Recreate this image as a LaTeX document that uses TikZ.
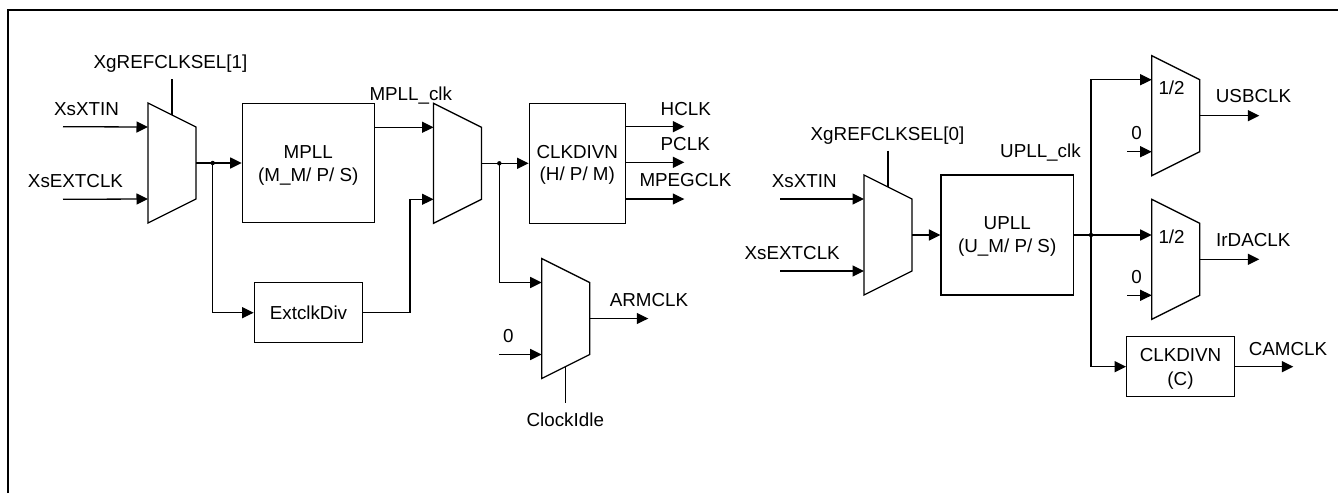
\documentclass[tikz,border=0pt]{standalone}
\usepackage{fontspec}
\setmainfont{Liberation Sans}
\usetikzlibrary{arrows.meta}
\begin{document}
\begin{tikzpicture}[x=1pt,y=-1pt,
  wire/.style={line width=1.3pt},
  arr/.style={line width=1.3pt,-{Triangle[length=11.5pt,width=11pt]}},
  blk/.style={draw,line width=1.3pt,inner sep=0pt,rectangle},
  lbl/.style={anchor=base,inner sep=0pt,font=\fontsize{18.8pt}{22pt}\selectfont},
  lbll/.style={lbl,anchor=base west},
  mux/.pic={
    \draw[line width=1.3pt] (0,0) coordinate (-tl) -- (48,24) coordinate (-tr)
      -- (48,96) coordinate (-br) -- (0,120) coordinate (-bl) -- cycle;
    \coordinate (-in1) at (0,24);
    \coordinate (-in2) at (0,96);
    \coordinate (-out) at (48,60);
    \coordinate (-sel) at (24,12);
    \coordinate (-selb) at (24,108);
  }]
\useasboundingbox (0,0) rectangle (1338,493);

% frame
\coordinate (f1) at (8,493);
\coordinate (f2) at (8,10);
\coordinate (f3) at (1345,10);
\draw[line width=2.2pt] (f1) -- (f2) -- (f3);

% ---------------- left part ----------------
\pic (m1) at (148,103) {mux};
\pic (m2) at (433.5,103.3) {mux};
\pic (m3) at (541.7,258.5) {mux};

\node[blk,minimum width=132pt,minimum height=119.4pt] (mpll) at (308.3,163) {};
\node[blk,minimum width=96.4pt,minimum height=120pt] (cdiv) at (577.5,163.3) {};
\node[blk,minimum width=108.4pt,minimum height=60pt] (ext) at (308.5,312.7) {};

\node[lbl] (t-sel1) at (170.5,68) {XgREFCLKSEL[1]};
\node[lbl] (t-xtin1) at (86.5,115) {XsXTIN};
\node[lbl] (t-ext1) at (75.5,187.7) {XsEXTCLK};
\node[lbl] (t-mpll1) at (308.3,158.3) {MPLL};
\node[lbl] (t-mpll2) at (308.3,181.7) {(M\_M/ P/ S)};
\node[lbll] (t-mpllclk) at (369.3,100) {MPLL\_clk};
\node[lbl] (t-cd1) at (577.3,158.3) {CLKDIVN};
\node[lbl] (t-cd2) at (577.3,180.7) {(H/ P/ M)};
\node[lbll] (t-hclk) at (660.5,115) {HCLK};
\node[lbll] (t-pclk) at (660.5,150.7) {PCLK};
\node[lbll] (t-mpeg) at (639.3,186.7) {MPEGCLK};
\node[lbl] (t-arm) at (649,306.7) {ARMCLK};
\node[lbl] (t-zero1) at (508.3,342.3) {0};
\node[lbl] (t-idle) at (565.3,426) {ClockIdle};
\node[lbl] (t-extdiv) at (308.5,319.3) {ExtclkDiv};

\coordinate (i1) at (63,126.7);
\coordinate (i2) at (63,199.3);
\coordinate (s1) at (172,79);
\coordinate (j1) at (212.7,163);
\coordinate (k1) at (410,0);
\coordinate (j2) at (499.3,163.3);
\coordinate (z1) at (499.3,354.5);
\coordinate (o-arm) at (648.3,318.5);
\coordinate (s3) at (565.7,402.7);
\coordinate (o-h) at (684.3,126.7);
\coordinate (o-p) at (684.3,162.3);
\coordinate (o-m) at (684.3,199);

\draw[arr] (i1) -- (m1-in1);
\draw[arr] (i2) -- (m1-in2);
\draw[wire] (s1) -- (m1-sel);
\draw[wire] (m1-out) -- (j1);
\draw[arr] (j1) -- (mpll.west);
\draw[arr] (j1) |- (ext.west);
\draw[arr] (mpll.east |- m2-in1) -- (m2-in1);
\draw[arr] (ext.east) -| (k1 |- m2-in2) -- (m2-in2);
\draw[wire] (m2-out) -- (j2);
\draw[arr] (j2) -- (cdiv.west);
\draw[arr] (j2) |- (m3-in1);
\draw[arr] (z1) -- (m3-in2);
\draw[arr] (m3-out) -- (o-arm);
\draw[wire] (m3-selb) -- (s3);
\draw[arr] (cdiv.east |- o-h) -- (o-h);
\draw[arr] (cdiv.east |- o-p) -- (o-p);
\draw[arr] (cdiv.east |- o-m) -- (o-m);
\fill (j1) circle (2.2pt);
\fill (j2) circle (2.2pt);

% ---------------- right part ----------------
\pic (m4) at (864,175) {mux};
\pic (m5) at (1151.7,55.7) {mux};
\pic (m6) at (1151.7,199.3) {mux};

\node[blk,minimum width=132.3pt,minimum height=120pt] (upll) at (1007.2,235) {};
\node[blk,minimum width=107.6pt,minimum height=60pt] (cdivc) at (1180.5,366.7) {};

\node[lbl] (t-sel0) at (887.5,140) {XgREFCLKSEL[0]};
\node[lbl] (t-xtin2) at (804.2,187.3) {XsXTIN};
\node[lbl] (t-ext2) at (792.2,259.3) {XsEXTCLK};
\node[lbl] (t-upll1) at (1007.2,229) {UPLL};
\node[lbl] (t-upll2) at (1007.2,252.7) {(U\_M/ P/ S)};
\node[lbll] (t-upllclk) at (1000,157) {UPLL\_clk};
\node[lbll] (t-half1) at (1158.3,94) {1/2};
\node[lbl] (t-zero2) at (1136.7,139.3) {0};
\node[lbl] (t-usb) at (1253.5,102.7) {USBCLK};
\node[lbll] (t-half2) at (1158.3,243.3) {1/2};
\node[lbl] (t-zero3) at (1136.7,283.3) {0};
\node[lbl] (t-irda) at (1253.3,246.7) {IrDACLK};
\node[lbl] (t-cc1) at (1180.5,361) {CLKDIVN};
\node[lbl] (t-cc2) at (1180.5,385) {(C)};
\node[lbl] (t-cam) at (1288,355) {CAMCLK};

\coordinate (i3) at (780,199);
\coordinate (i4) at (780,271);
\coordinate (s4) at (888,150.7);
\coordinate (j3) at (1091,235);
\coordinate (z2) at (1127.3,151.7);
\coordinate (z3) at (1127.3,295.3);
\coordinate (o-usb) at (1259.3,115.7);
\coordinate (o-irda) at (1259.3,259.3);
\coordinate (o-cam) at (1293.3,366.7);

\draw[arr] (i3) -- (m4-in1);
\draw[arr] (i4) -- (m4-in2);
\draw[wire] (s4) -- (m4-sel);
\draw[arr] (m4-out) -- (upll.west);
\draw[wire] (upll.east) -- (j3);
\draw[arr] (j3) -- (j3 -| m6-tl);
\draw[arr] (j3) |- (m5-in1);
\draw[arr] (j3) |- (cdivc.west);
\draw[arr] (z2) -- (m5-in2);
\draw[arr] (z3) -- (m6-in2);
\draw[arr] (m5-out) -- (o-usb);
\draw[arr] (m6-out) -- (o-irda);
\draw[arr] (cdivc.east) -- (o-cam);
\fill (j3) circle (2.2pt);
\end{tikzpicture}
\end{document}
